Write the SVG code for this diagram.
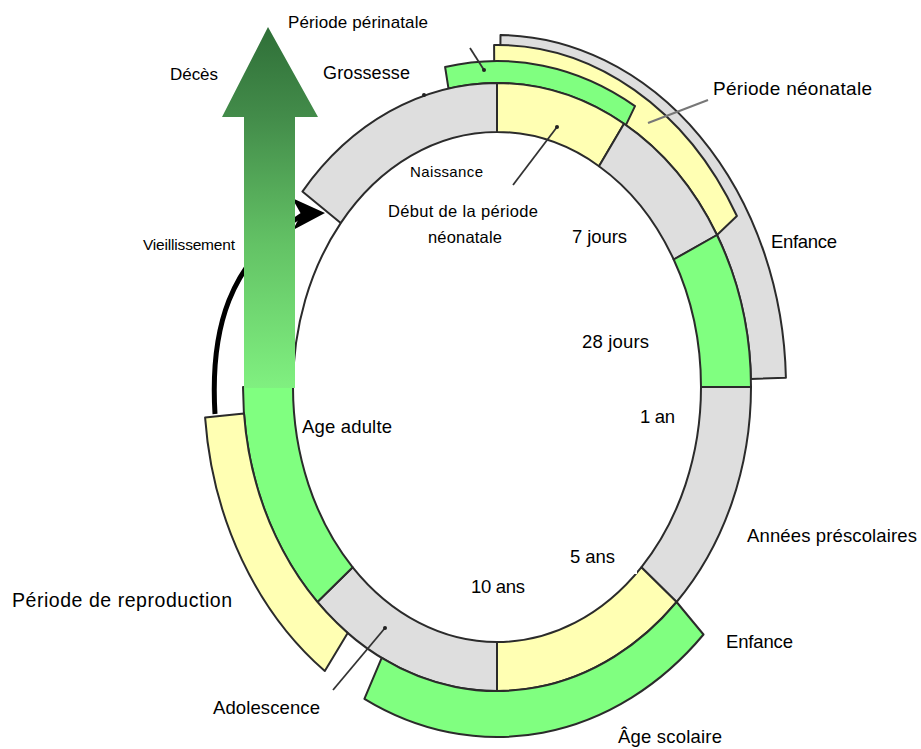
<svg xmlns="http://www.w3.org/2000/svg" width="921" height="749" viewBox="0 0 921 749">
<defs>
<linearGradient id="arrowGrad" x1="0" y1="27" x2="0" y2="388" gradientUnits="userSpaceOnUse">
<stop offset="0" stop-color="#2f6f38"/>
<stop offset="0.25" stop-color="#438c4a"/>
<stop offset="0.6" stop-color="#63c265"/>
<stop offset="1" stop-color="#80f080"/>
</linearGradient>
</defs>
<style>
.gray{fill:#dedede;stroke:#2b2b2b;stroke-width:2;stroke-linejoin:round}
.yel{fill:#ffffb3;stroke:#2b2b2b;stroke-width:2;stroke-linejoin:round}
.grn{fill:#80ff80;stroke:#2b2b2b;stroke-width:2;stroke-linejoin:round}
.line{fill:none;stroke:#2b2b2b;stroke-width:2}
.lead{fill:none;stroke:#333;stroke-width:1.8}
text{font-family:"Liberation Sans",Arial,sans-serif;fill:#000}
.lbl{font-size:18.5px}
</style>
<rect width="921" height="749" fill="#fff"/>

<g id="connectors">
<path d="M 215 414 C 210 330, 228 262, 302 215" fill="none" stroke="#000" stroke-width="5"/>
<polygon points="292,198 325,213 293,230 301,214" fill="#000"/>
</g>

<g id="band-enfance-outer"><path class="gray" d="M 500.5 35 A 289 352 0 0 1 785.9 377.8 L 750.9 379 A 254 304 0 0 0 500.1 83 Z"/></g>
<g id="band-neonatale"><path class="yel" d="M 494.1 45 A 277 342 0 0 1 736.9 216 L 717 235 A 254 304 0 0 0 494.3 83 Z"/></g>
<g id="band-perinatale"><path class="grn" d="M 445.1 67 A 272 326 0 0 1 635 106.1 L 625.9 125.1 A 254 304 0 0 0 448.5 88.6 Z"/></g>

<g id="seg-grossesse"><path class="gray" d="M 302.4 191.6 A 254 304 0 0 1 497 83 L 497 132 A 204 255 0 0 0 340.7 223.1 Z"/></g>
<g id="seg-0-7j"><path class="yel" d="M 497 83 A 254 304 0 0 1 624 123.7 L 599 166.2 A 204 255 0 0 0 497 132 Z"/></g>
<g id="seg-7-28j"><path class="gray" d="M 624 123.7 A 254 304 0 0 1 717 235 L 673.7 259.5 A 204 255 0 0 0 599 166.2 Z"/></g>
<g id="seg-28j-1an"><path class="grn" d="M 717 235 A 254 304 0 0 1 751 387 L 701 387 A 204 255 0 0 0 673.7 259.5 Z"/></g>
<g id="seg-1-5ans"><path class="gray" d="M 751 387 A 254 304 0 0 1 676.6 602 L 641.3 567.3 A 204 255 0 0 0 701 387 Z"/></g>
<g id="seg-5-10ans"><path class="yel" d="M 676.6 602 A 254 304 0 0 1 497 691 L 497 642 A 204 255 0 0 0 641.3 567.3 Z"/></g>
<g id="seg-adolescence"><path class="gray" d="M 497 691 A 254 304 0 0 1 317.4 602 L 352.7 567.3 A 204 255 0 0 0 497 642 Z"/></g>
<g id="seg-adulte"><path class="grn" d="M 317.4 602 A 254 304 0 0 1 243 387 L 293 387 A 204 255 0 0 0 352.7 567.3 Z"/></g>
<g id="seg-gap"><path class="line" d="M 293 387 A 204 255 0 0 1 340.7 223.1"/></g>

<g id="band-reproduction"><path class="yel" d="M 324.8 671 A 293 351 0 0 1 205.1 417.6 L 244 413.5 A 254 304 0 0 0 347.7 632.9 Z"/></g>
<g id="band-scolaire"><path class="grn" d="M 703.5 634.5 A 292 350 0 0 1 364.4 698.8 L 381.7 657.9 A 254 304 0 0 0 676.6 602 Z"/></g>

<g id="arrow-deces"><polygon points="268,27 318,117 295,117 295,388 244,388 244,117 222,117" fill="url(#arrowGrad)"/></g>

<g id="leaders">
<line class="lead" x1="470" y1="48" x2="484" y2="70"/><circle cx="484" cy="70" r="2" fill="#222"/>
<circle cx="424" cy="95" r="2" fill="#222"/>
<line class="lead" x1="513" y1="185" x2="557" y2="127"/><circle cx="557" cy="127" r="2" fill="#222"/>
<line x1="648" y1="123" x2="708" y2="100" stroke="#777" stroke-width="2"/>
<line class="lead" x1="333" y1="690" x2="385" y2="628"/><circle cx="385" cy="628" r="2" fill="#222"/>
</g>

<g id="labels">
<text x="288" y="28" font-size="17" textLength="140">Période périnatale</text>
<text x="170" y="80" font-size="17" textLength="48">Décès</text>
<text x="323" y="79" font-size="18" textLength="87">Grossesse</text>
<text x="713" y="95" font-size="19" textLength="159">Période néonatale</text>
<text x="410" y="177" font-size="15" textLength="73">Naissance</text>
<text x="388" y="217" font-size="16.5" textLength="150">Début de la période</text>
<text x="428" y="243" font-size="16.5" textLength="74">néonatale</text>
<text x="572" y="243" class="lbl" textLength="55">7 jours</text>
<text x="771" y="248" class="lbl" textLength="66">Enfance</text>
<rect x="138" y="232" width="98" height="38" fill="#fff"/>
<text x="143" y="250" font-size="15.5" textLength="92">Vieillissement</text>
<text x="582" y="348" class="lbl" textLength="67">28 jours</text>
<text x="640" y="423" class="lbl" textLength="35">1 an</text>
<text x="302" y="433" class="lbl" textLength="90">Age adulte</text>
<text x="747" y="542" class="lbl" textLength="170">Années préscolaires</text>
<rect x="565" y="545" width="72" height="29" fill="#fff"/>
<text x="570" y="563" class="lbl" textLength="45">5 ans</text>
<text x="471" y="593" class="lbl" textLength="54">10 ans</text>
<text x="12" y="607" font-size="19.5" textLength="220">Période de reproduction</text>
<text x="726" y="648" class="lbl" textLength="67">Enfance</text>
<text x="213" y="714" class="lbl" textLength="107">Adolescence</text>
<text x="618" y="743" class="lbl" textLength="104">Âge scolaire</text>
</g>
</svg>
